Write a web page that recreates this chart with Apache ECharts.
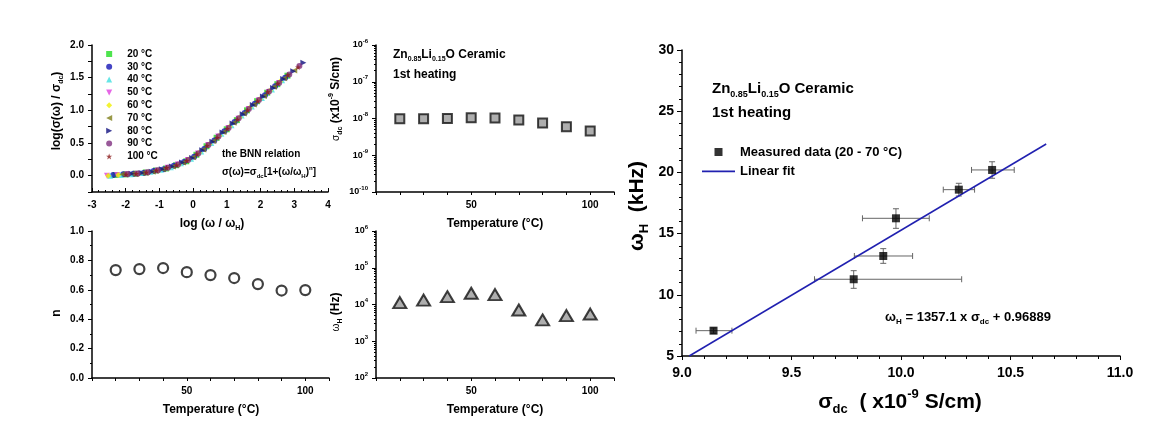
<!DOCTYPE html>
<html><head><meta charset="utf-8">
<script src="https://cdn.jsdelivr.net/npm/echarts@6/dist/echarts.min.js"></script>
<style>html,body{margin:0;padding:0;background:#fff}#c{width:1158px;height:436px}</style>
</head><body><div id="c"></div>
<script>
// ---------- Panel (top-left): scaled conductivity ----------
const tempLabels = ['20 °C','30 °C','40 °C','50 °C','60 °C','70 °C','80 °C','90 °C','100 °C'];
const logFreq = [1.75,2.05,2.35,2.65,2.95,3.25,3.55,3.85,4.15,4.45,4.75,5.05,5.35,5.65,5.95,6.25,6.55,6.85];
const logOmegaH = [4.053,4.121,4.212,4.305,4.270,3.851,3.580,3.699,3.740];
const scaled20  = [0.01,0.02,0.03,0.05,0.08,0.11,0.16,0.22,0.32,0.45,0.58,0.71,0.85,1.00,1.14,1.27,1.40,1.53];
const scaled30  = [0.01,0.02,0.03,0.04,0.07,0.10,0.15,0.21,0.29,0.41,0.54,0.68,0.82,0.96,1.10,1.23,1.37,1.50];
const scaled40  = [0.00,0.01,0.02,0.04,0.06,0.09,0.13,0.19,0.26,0.37,0.50,0.64,0.77,0.92,1.06,1.19,1.32,1.46];
const scaled50  = [0.00,0.01,0.02,0.03,0.05,0.08,0.12,0.17,0.24,0.34,0.47,0.60,0.73,0.87,1.02,1.15,1.28,1.42];
const scaled60  = [0.00,0.01,0.02,0.03,0.05,0.08,0.12,0.17,0.25,0.35,0.48,0.61,0.75,0.89,1.04,1.17,1.30,1.44];
const scaled70  = [0.02,0.03,0.04,0.06,0.10,0.14,0.20,0.28,0.40,0.53,0.67,0.81,0.95,1.09,1.22,1.36,1.49,1.61];
const scaled80  = [0.03,0.04,0.06,0.10,0.14,0.20,0.27,0.39,0.52,0.66,0.80,0.94,1.08,1.21,1.34,1.48,1.60,1.73];
const scaled90  = [0.02,0.03,0.05,0.08,0.12,0.17,0.24,0.34,0.47,0.60,0.73,0.88,1.02,1.16,1.29,1.42,1.55,1.68];
const scaled100 = [0.02,0.03,0.05,0.08,0.12,0.16,0.23,0.33,0.46,0.58,0.72,0.86,1.00,1.14,1.28,1.41,1.54,1.66];
const scaledSets = [scaled20,scaled30,scaled40,scaled50,scaled60,scaled70,scaled80,scaled90,scaled100];

// ---------- Temperature panels ----------
const temperatureC = [20,30,40,50,60,70,80,90,100];
const sigmaDc = [9.78e-9,9.92e-9,9.98e-9,10.42e-9,10.26e-9,9.14e-9,7.5e-9,6.0e-9,4.6e-9];
const exponentN = [0.734,0.741,0.748,0.720,0.700,0.680,0.639,0.595,0.598];
const omegaHz = [11.3e3,13.2e3,16.3e3,20.2e3,18.6e3,7.1e3,3.8e3,5.0e3,5.5e3];

// ---------- Right panel: omega_H vs sigma_dc ----------
const measSigma = [9.144,9.784,9.919,9.977,10.264,10.416];
const measOmega = [7.07,11.27,13.17,16.25,18.59,20.20];
const sigmaLow  = [9.064,9.605,9.787,9.824,10.193,10.322];
const sigmaHigh = [9.228,10.277,10.053,10.129,10.336,10.517];
const omegaLow  = [6.85,10.53,12.57,15.43,18.07,19.52];
const omegaHigh = [7.29,11.97,13.77,17.03,19.11,20.87];
const fitSigma = [9.033,10.663];
const fitOmega = [5.0,22.32];

const FONT = 'Liberation Sans';
const symbols = [
  'path://M0,0H10V10H0Z',
  'circle',
  'path://M5,0L10,10H0Z',
  'path://M0,0H10L5,10Z',
  'path://M5,0L10,5L5,10L0,5Z',
  'path://M0,5L10,0V10Z',
  'path://M0,0L10,5L0,10Z',
  'circle',
  'path://M5,0L6.2,3.6H10L6.9,5.8L8.1,9.5L5,7.2L1.9,9.5L3.1,5.8L0,3.6H3.8Z'
];
const colors = ['#22dd22','#1515b5','#40e0e0','#e040e0','#f0f000','#80801a','#101080','#803080','#8b1a1a'];

const axLine = {onZero:false,lineStyle:{color:'#000',width:1.5}};
const smallLbl = {color:'#000',fontWeight:'bold',fontSize:10,fontFamily:FONT};
const tempX = (gi)=>({type:'value',gridIndex:gi,min:10,max:110,interval:10,
  axisLine:axLine,axisTick:{inside:false,length:3,lineStyle:{color:'#000'}},splitLine:{show:false},
  axisLabel:Object.assign({},smallLbl,{formatter:v=>(v===50||v===100)?String(v):''})});
const logY = (gi,min,max)=>({type:'log',logBase:10,gridIndex:gi,min:min,max:max,
  axisLine:axLine,axisTick:{length:4,lineStyle:{color:'#000'}},splitLine:{show:false},
  minorTick:{show:true,splitNumber:9,length:2,lineStyle:{color:'#000'}},
  axisLabel:Object.assign({},smallLbl,{fontSize:9,lineHeight:14,formatter:v=>'10{s|'+Math.round(Math.log10(v))+'}',
    rich:{s:{fontSize:6,lineHeight:7,verticalAlign:'top',fontWeight:'bold',fontFamily:FONT,color:'#000'}}})});

const subRich = (fs)=>({
  sub:{fontSize:Math.round(fs*0.6),lineHeight:Math.round(fs*0.6),verticalAlign:'bottom',fontWeight:'bold',fontFamily:FONT,fill:'#000'},
  sup:{fontSize:Math.round(fs*0.6),lineHeight:Math.round(fs*0.6),verticalAlign:'top',fontWeight:'bold',fontFamily:FONT,fill:'#000'},
  sm:{fontSize:Math.round(fs*0.8),fontWeight:'normal',fontFamily:FONT,fill:'#000'}
});
function T(x,y,text,fs,opt){
  opt=opt||{};
  return {type:'text',x:x,y:y,rotation:opt.rot?Math.PI/2:0,silent:true,
    style:{text:text,fontSize:fs,fontWeight:'bold',fontFamily:FONT,fill:'#000',
      align:opt.align||'center',verticalAlign:'middle',lineHeight:Math.round(fs*1.35),rich:subRich(fs)}};
}

const series = [];
tempLabels.forEach((t,i)=>{
  series.push({type:'scatter',name:t,xAxisIndex:0,yAxisIndex:0,symbol:symbols[i],symbolSize:6,
    itemStyle:{color:colors[i]},
    data:logFreq.map((f,k)=>[+(f-logOmegaH[i]).toFixed(3),scaledSets[i][k]])});
});
series.push({type:'scatter',xAxisIndex:1,yAxisIndex:1,symbol:'rect',symbolSize:9,
  itemStyle:{color:'#9a9a9a',borderColor:'#111',borderWidth:2},
  data:temperatureC.map((t,i)=>[t,sigmaDc[i]])});
series.push({type:'scatter',xAxisIndex:2,yAxisIndex:2,symbol:'circle',symbolSize:10,
  itemStyle:{color:'#fff',borderColor:'#111',borderWidth:2.2},
  data:temperatureC.map((t,i)=>[t,exponentN[i]])});
series.push({type:'scatter',xAxisIndex:3,yAxisIndex:3,symbol:'triangle',symbolSize:[13,11],
  itemStyle:{color:'#9a9a9a',borderColor:'#111',borderWidth:2},
  data:temperatureC.map((t,i)=>[t,omegaHz[i]])});
series.push({type:'line',name:'Linear fit',xAxisIndex:4,yAxisIndex:4,symbol:'none',
  lineStyle:{color:'#2020b0',width:1.5},itemStyle:{color:'#2020b0'},z:3,
  data:fitSigma.map((s,i)=>[s,fitOmega[i]])});
series.push({type:'custom',xAxisIndex:4,yAxisIndex:4,z:2,
  data:measSigma.map((s,i)=>[s,measOmega[i],sigmaLow[i],sigmaHigh[i],omegaLow[i],omegaHigh[i]]),
  renderItem:function(params,api){
    const y=api.value(1), x=api.value(0);
    const pl=api.coord([api.value(2),y]), ph=api.coord([api.value(3),y]);
    const ql=api.coord([x,api.value(4)]), qh=api.coord([x,api.value(5)]);
    const st={stroke:'#666',lineWidth:1};
    const L=(a,b,c,d)=>({type:'line',shape:{x1:a,y1:b,x2:c,y2:d},style:st});
    return {type:'group',children:[
      L(pl[0],pl[1],ph[0],ph[1]), L(pl[0],pl[1]-3,pl[0],pl[1]+3), L(ph[0],ph[1]-3,ph[0],ph[1]+3),
      L(ql[0],ql[1],qh[0],qh[1]), L(ql[0]-3,ql[1],ql[0]+3,ql[1]), L(qh[0]-3,qh[1],qh[0]+3,qh[1])
    ]};
  }});
series.push({type:'scatter',name:'Measured data (20 - 70 °C)',xAxisIndex:4,yAxisIndex:4,z:4,
  symbol:'path://M0,0H10V10H0Z',symbolSize:8,itemStyle:{color:'#000'},
  data:measSigma.map((s,i)=>[s,measOmega[i]])});

const option = {
  animation:false,
  backgroundColor:'#fff',
  textStyle:{fontFamily:FONT},
  grid:[
    {left:92,top:45,width:236,height:147},
    {left:376,top:45,width:238,height:147},
    {left:92,top:231,width:237,height:147},
    {left:376,top:231,width:238,height:147},
    {left:682,top:50,width:438,height:306}
  ],
  xAxis:[
    {type:'value',gridIndex:0,min:-3,max:4,interval:1,axisLine:axLine,
      axisTick:{inside:true,length:4,lineStyle:{color:'#000'}},
      minorTick:{show:true,splitNumber:5,length:2,lineStyle:{color:'#000'}},
      splitLine:{show:false},minorSplitLine:{show:false},axisLabel:smallLbl},
    tempX(1), tempX(2), tempX(3),
    {type:'value',gridIndex:4,min:9,max:11,interval:0.5,axisLine:axLine,
      axisTick:{length:4,lineStyle:{color:'#000'}},
      minorTick:{show:true,splitNumber:5,length:3,lineStyle:{color:'#000'}},
      splitLine:{show:false},
      axisLabel:{color:'#000',fontWeight:'bold',fontSize:14,fontFamily:FONT,margin:10,formatter:v=>v.toFixed(1)}}
  ],
  yAxis:[
    {type:'value',gridIndex:0,min:-0.25,max:2,interval:0.25,axisLine:axLine,
      axisTick:{length:4,lineStyle:{color:'#000'}},splitLine:{show:false},
      axisLabel:Object.assign({},smallLbl,{formatter:v=>(Math.abs(v*2-Math.round(v*2))<1e-6)?v.toFixed(1):''})},
    logY(1,1e-10,1e-6),
    {type:'value',gridIndex:2,min:0,max:1,interval:0.2,axisLine:axLine,
      axisTick:{length:4,lineStyle:{color:'#000'}},
      minorTick:{show:true,splitNumber:2,length:2,lineStyle:{color:'#000'}},
      splitLine:{show:false},axisLabel:Object.assign({},smallLbl,{formatter:v=>v.toFixed(1)})},
    logY(3,1e2,1e6),
    {type:'value',gridIndex:4,min:5,max:30,interval:5,axisLine:axLine,
      axisTick:{length:5,lineStyle:{color:'#000'}},
      minorTick:{show:true,splitNumber:5,length:3,lineStyle:{color:'#000'}},
      splitLine:{show:false},
      axisLabel:{color:'#000',fontWeight:'bold',fontSize:14,fontFamily:FONT}}
  ],
  legend:[
    {data:tempLabels,orient:'vertical',left:101,top:43,itemWidth:26,itemHeight:6,itemGap:0.8,
      textStyle:{fontSize:10,fontWeight:'bold',fontFamily:FONT,color:'#000',lineHeight:12},
      selectedMode:false},
    {data:['Measured data (20 - 70 °C)',{name:'Linear fit',icon:'path://M0,4H40V6H0Z'}],
      orient:'vertical',left:697,top:140,
      itemWidth:33,itemHeight:8,itemGap:5.4,
      textStyle:{fontSize:13,fontWeight:'bold',fontFamily:FONT,color:'#000',lineHeight:14},
      selectedMode:false}
  ],
  graphic:[
    T(57,111,'log(σ(ω) / σ{sub|dc})',12,{rot:true}),
    T(212,224,'log (ω / ω{sub|H})',12),
    T(222,154,'the BNN relation',10,{align:'left'}),
    T(222,172,'σ(ω)=σ{sub|dc}[1+(ω/ω{sub|H}){sup|n}]',10,{align:'left'}),
    T(393,55,'Zn{sub|0.85}Li{sub|0.15}O Ceramic',12,{align:'left'}),
    T(393,75,'1st heating',12,{align:'left'}),
    T(336,99,'{sm|σ}{sub|dc} (x10{sup|-9} S/cm)',12,{rot:true}),
    T(495,224,'Temperature (°C)',12),
    T(57,313,'n',12,{rot:true}),
    T(211,410,'Temperature (°C)',12),
    T(336,312,'{sm|ω}{sub|H} (Hz)',12,{rot:true}),
    T(495,410,'Temperature (°C)',12),
    T(712,89,'Zn{sub|0.85}Li{sub|0.15}O Ceramic',15,{align:'left'}),
    T(712,113,'1st heating',15,{align:'left'}),
    T(968,317,'ω{sub|H} = 1357.1 x σ{sub|dc} + 0.96889',13),
    T(900,402,'σ{sub|dc}  ( x10{sup|-9} S/cm)',21),
    T(637,206,'ω{sub|H}  (kHz)',21,{rot:true})
  ],
  series:series
};
const chart = echarts.init(document.getElementById('c'),null,{renderer:'canvas'});
chart.setOption(option);
</script>
</body></html>
